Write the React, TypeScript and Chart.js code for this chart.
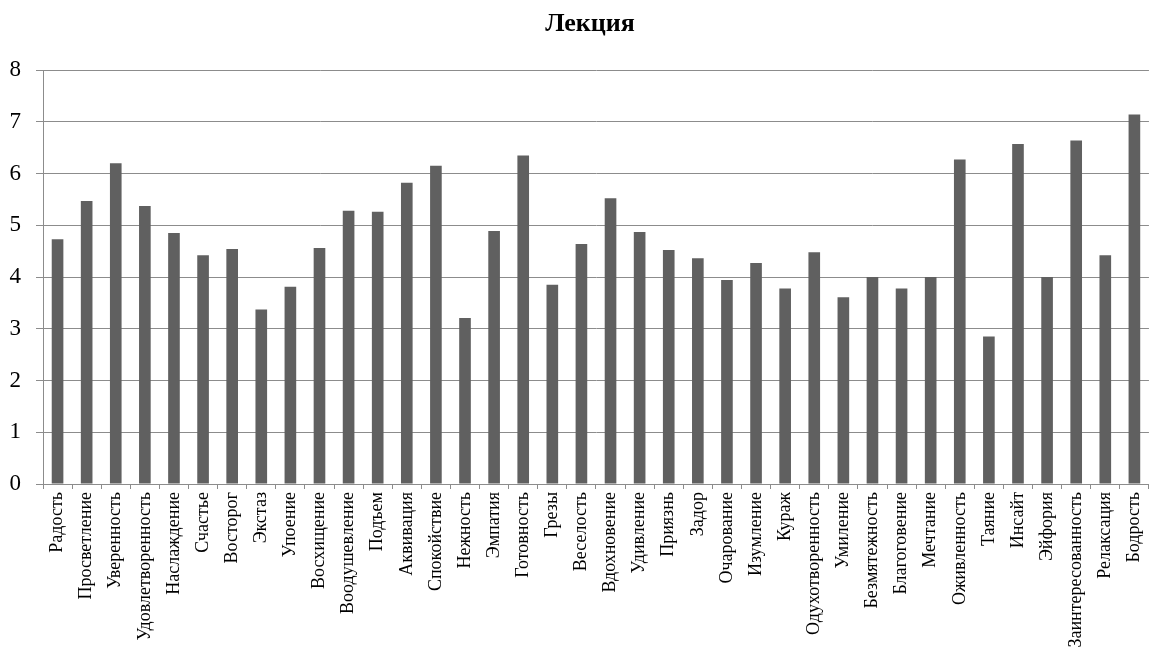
import React, { useEffect, useRef } from "react";
import { Chart, registerables } from "chart.js";

Chart.register(...registerables);

const TITLE = "Лекция";

const categories: string[] = [
  "Радость", "Просветление", "Уверенность", "Удовлетворенность", "Наслаждение",
  "Счастье", "Восторог", "Экстаз", "Упоение", "Восхищение", "Воодушевление",
  "Подъем", "Аквивация", "Спокойствие", "Нежность", "Эмпатия", "Готовность",
  "Грезы", "Веселость", "Вдохновение", "Удивление", "Приязнь", "Задор",
  "Очарование", "Изумление", "Кураж", "Одухотворенность", "Умиление",
  "Безмятежность", "Благоговение", "Мечтание", "Оживленность", "Таяние",
  "Инсайт", "Эйфория", "Заинтересованность", "Релаксация", "Бодрость",
];

const values: number[] = [
  4.73, 5.47, 6.2, 5.37, 4.85,
  4.42, 4.54, 3.37, 3.81, 4.56, 5.28,
  5.26, 5.82, 6.15, 3.21, 4.89, 6.35,
  3.85, 4.64, 5.52, 4.87, 4.52, 4.36,
  3.94, 4.27, 3.78, 4.48, 3.61,
  4.0, 3.78, 4.0, 6.27, 2.85,
  6.57, 4.0, 6.64, 4.42, 7.14,
];

const yTicks: number[] = [0, 1, 2, 3, 4, 5, 6, 7, 8];

const FONT = "'Liberation Serif', 'Times New Roman', serif";
const GRID = "#8c8c8c";
const BAR = "#606060";

export default function App() {
  const ref = useRef<HTMLCanvasElement | null>(null);

  useEffect(() => {
    document.documentElement.style.overflow = "hidden";
    document.body.style.margin = "0";
    document.body.style.overflow = "hidden";
    if (!ref.current) return;

    const titlePlugin = {
      id: "customTitle",
      afterDraw(chart: any) {
        const ctx = chart.ctx;
        ctx.save();
        ctx.font = `bold 26px ${FONT}`;
        ctx.fillStyle = "#000";
        ctx.textAlign = "center";
        ctx.textBaseline = "alphabetic";
        ctx.fillText(TITLE, 590, 31);
        ctx.restore();
      },
    };

    const chart = new Chart(ref.current, {
      type: "bar",
      data: {
        labels: categories,
        datasets: [
          {
            data: values,
            backgroundColor: BAR,
            borderWidth: 0,
            barPercentage: 0.4,
            categoryPercentage: 1,
          },
        ],
      },
      options: {
        responsive: false,
        animation: false,
        layout: { padding: { top: 70, left: 0, right: 0, bottom: 0 } },
        plugins: {
          legend: { display: false },
          title: { display: false },
          tooltip: { enabled: false },
        },
        scales: {
          x: {
            afterFit(scale: any) {
              scale.height = 169;
            },
            grid: {
              display: true,
              drawOnChartArea: false,
              drawTicks: true,
              tickLength: 5,
              color: GRID,
              offset: true,
            },
            border: { display: true, color: GRID, width: 1 },
            ticks: {
              autoSkip: false,
              maxRotation: 90,
              minRotation: 90,
              padding: 3,
              color: "#000",
              font: { family: FONT, size: 18 },
            },
          },
          y: {
            min: 0,
            max: 8,
            afterFit(scale: any) {
              scale.width = 43;
            },
            afterBuildTicks(scale: any) {
              scale.ticks = yTicks.map((v) => ({ value: v }));
            },
            grid: {
              color: GRID,
              lineWidth: 1,
              tickLength: 7,
              drawTicks: true,
            },
            border: { display: true, color: GRID, width: 1 },
            ticks: {
              stepSize: 1,
              padding: 15,
              color: "#000",
              font: { family: FONT, size: 23 },
            },
          },
        },
      },
      plugins: [titlePlugin],
    });

    return () => chart.destroy();
  }, []);

  return (
    <div style={{ width: 1159, height: 653 }}>
      <canvas ref={ref} width={1159} height={653} style={{ display: "block" }} />
    </div>
  );
}
